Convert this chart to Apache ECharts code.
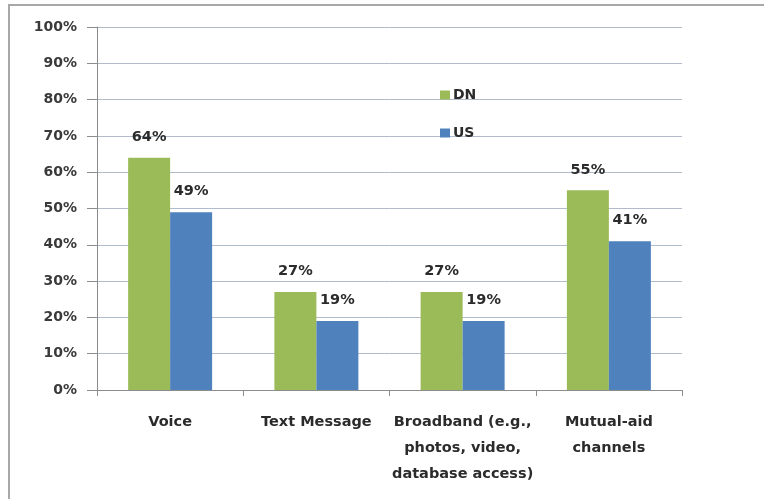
<!DOCTYPE html>
<html><head><meta charset="utf-8">
<script src="https://cdn.jsdelivr.net/npm/echarts@6/dist/echarts.min.js"></script>
<style>html,body{margin:0;padding:0;background:#fff}#c{width:764px;height:499px}</style>
</head><body><div id="c"></div>
<script>
var categories = ['Voice', 'Text Message', 'Broadband (e.g.,\nphotos, video,\ndatabase access)', 'Mutual-aid\nchannels'];
var seriesNames = ['DN', 'US'];
var dnValues = [64, 27, 27, 55];
var usValues = [49, 19, 19, 41];
var yTicks = [0, 10, 20, 30, 40, 50, 60, 70, 80, 90, 100];

var FONT = '"DejaVu Sans", sans-serif';
var chart = echarts.init(document.getElementById('c'), null, {renderer: 'canvas'});
var labelStyle = {show: true, position: 'top', distance: 13, formatter: '{c}%', fontFamily: FONT, fontSize: 14.5, fontWeight: 'bold', color: '#2b2b2b'};
chart.setOption({
  animation: false,
  backgroundColor: '#fff',
  graphic: [{type: 'rect', shape: {x: 9, y: 5, width: 900, height: 700}, style: {fill: 'none', stroke: '#a8a8a8', lineWidth: 2}, silent: true}],
  legend: {
    orient: 'vertical', left: 435, top: 82, itemWidth: 10, itemHeight: 9, itemGap: 22,
    icon: 'rect',
    textStyle: {fontFamily: FONT, fontSize: 14, fontWeight: 'bold', color: '#2b2b2b', lineHeight: 16, padding: [0,0,0,-2]},
    data: seriesNames
  },
  grid: {left: 97, right: 82, top: 27, bottom: 109, containLabel: false},
  xAxis: {
    type: 'category', data: categories,
    axisLine: {lineStyle: {color: '#8c8c8c', width: 1}},
    axisTick: {show: true, length: 6, interval: 0, lineStyle: {color: '#8c8c8c'}},
    axisLabel: {interval: 0, margin: 19, lineHeight: 26, fontFamily: FONT, fontSize: 14.5, fontWeight: 'bold', color: '#2b2b2b'}
  },
  yAxis: {
    type: 'value', min: 0, max: 100, interval: 10,
    axisLine: {show: true, lineStyle: {color: '#8c8c8c'}},
    axisTick: {show: true, length: 10, lineStyle: {color: '#8c8c8c'}},
    splitLine: {lineStyle: {color: '#b0bccb', width: 1}},
    axisLabel: {formatter: '{value}%', margin: 20, fontFamily: FONT, fontSize: 14, fontWeight: 'bold', color: '#3a3a3a'}
  },
  series: [
    {name: seriesNames[0], type: 'bar', data: dnValues, barWidth: 42, barGap: '0%', itemStyle: {color: '#9bbb59'}, label: labelStyle},
    {name: seriesNames[1], type: 'bar', data: usValues, barWidth: 42, barGap: '0%', itemStyle: {color: '#4f81bd'}, label: labelStyle}
  ]
});
</script></body></html>
